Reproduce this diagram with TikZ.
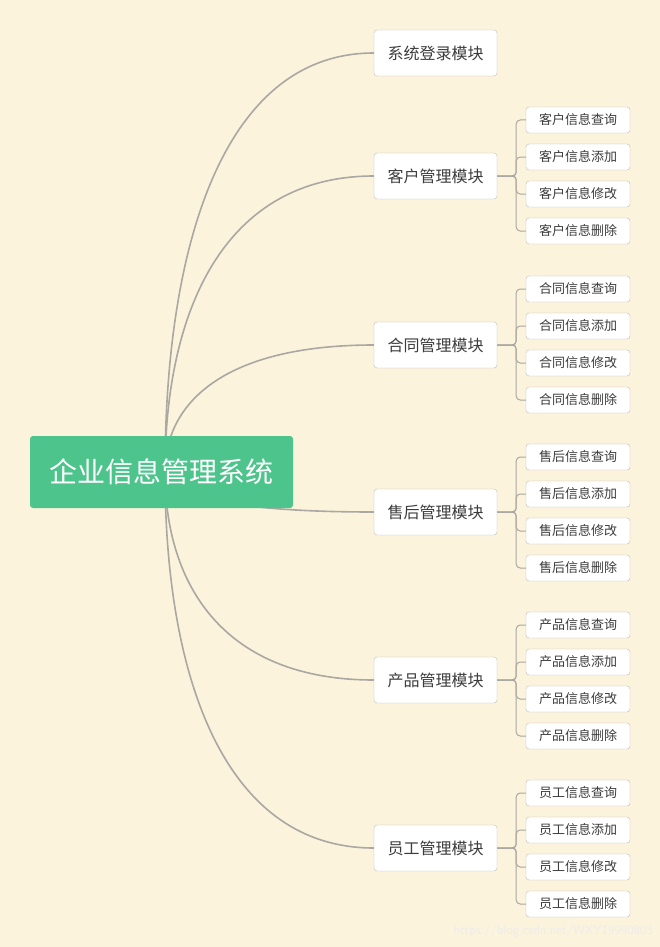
\documentclass[tikz,border=0pt]{standalone}
\usepackage{fontspec}
\setmainfont{Noto Sans CJK SC}
\definecolor{bg}{HTML}{FBF3DC}
\definecolor{rootc}{HTML}{4DC48B}
\definecolor{linec}{HTML}{ABA7A2}
\definecolor{bordc}{HTML}{BDBBB7}
\definecolor{txt}{HTML}{3C3C3C}
\begin{document}
\begin{tikzpicture}[x=1pt,y=-1pt,
  rootbox/.style={fill=rootc,rounded corners=3pt,minimum width=263pt,minimum height=72pt,text=white,font=\fontsize{28}{30}\selectfont,inner sep=0pt},
  modbox/.style={draw=bordc,fill=white,rounded corners=3pt,minimum width=123pt,minimum height=46pt,text=txt,font=\fontsize{16}{18}\selectfont,inner sep=0pt},
  leafbox/.style={draw=bordc,fill=white,rounded corners=3pt,minimum width=104pt,minimum height=26pt,text=txt,font=\fontsize{13}{15}\selectfont,inner sep=0pt},
  conn/.style={draw=linec,line width=1.6pt},
  leafconn/.style={draw=linec,line width=1pt,rounded corners=4pt}]
\fill[bg] (0,0) rectangle (660,947);
\coordinate (o) at (165,472);
\foreach \n/\y/\t in {m0/53/系统登录模块,m1/176/客户管理模块,m2/345/合同管理模块,m3/512/售后管理模块,m4/680/产品管理模块,m5/848/员工管理模块}{
  \node[modbox] (\n) at (435.5,\y) {\t};
  \pgfmathsetmacro{\cy}{\y+0.45*(472-\y)}
  \draw[conn] (o) .. controls (165,\cy) and (225,\y) .. (\n.west);
}
\node[rootbox] (root) at (161.5,472) {企业信息管理系统};
\foreach \m/\y/\p in {m1/120/客户,m2/289/合同,m3/457/售后,m4/625/产品,m5/793/员工}{
  \foreach \i/\a in {0/查询,1/添加,2/修改,3/删除}{
    \pgfmathsetmacro{\ly}{\y+37*\i}
    \node[leafbox] (\m l\i) at (578,\ly) {\p 信息\a};
    \draw[leafconn] (\m.east) -- ++(19,0) |- (\m l\i.west);
  }
}
\node[anchor=south east,text=white!85!gray,font=\fontsize{13}{15}\selectfont\sffamily,inner sep=2pt] (wm) at (655,940) {https://blog.csdn.net/WXY19990803};
\end{tikzpicture}
\end{document}
